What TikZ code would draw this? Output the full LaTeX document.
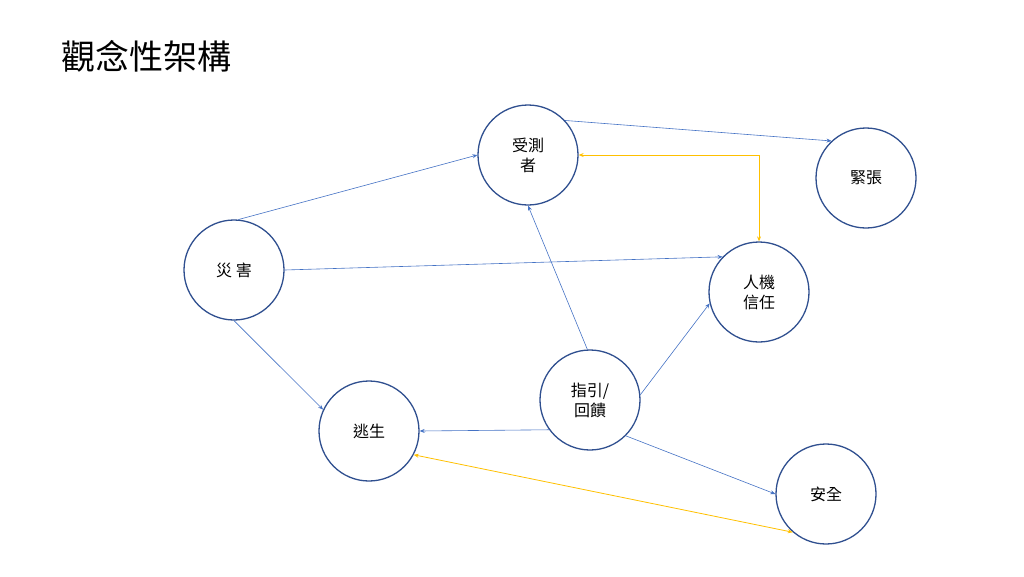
\documentclass[tikz,border=0pt]{standalone}
\usepackage{fontspec}
\newfontfamily\cjk{Noto Sans CJK TC}
\usetikzlibrary{arrows.meta}
\definecolor{cline}{HTML}{2F4F8F}
\definecolor{eline}{HTML}{4472C4}
\definecolor{yline}{HTML}{FFC000}
\begin{document}
\begin{tikzpicture}[x=1pt,y=-1pt,
  circ/.style={circle,draw=cline,line width=1.3pt,minimum size=100pt,inner sep=0pt,font=\cjk\fontsize{16}{20}\selectfont,align=center},
  edge/.style={draw=eline,line width=0.6pt,-{Stealth[length=5pt,width=4pt]}},
  yedge/.style={draw=yline,line width=0.8pt,{Stealth[length=5pt,width=4pt]}-{Stealth[length=5pt,width=4pt]}}]
\useasboundingbox (0,0) rectangle (1024,576);
\node[anchor=west,font=\cjk\fontsize{34}{40}\selectfont] (title) at (58,56) {觀念性架構};
\node[circ] (j) at (528,155) {受測\\者};
\node[circ] (k) at (866,178) {緊張};
\node[circ] (d) at (234,270) {災 害};
\node[circ] (t) at (759,292) {人機\\信任};
\node[circ] (g) at (590,400) {指引/\\回饋};
\node[circ] (e) at (369,431) {逃生};
\node[circ] (s) at (826,494) {安全};
\draw[edge] (j.43) -- (k.133);
\draw[edge] (d.85) -- (j.180);
\draw[edge] (d.0) -- (t.136);
\draw[edge] (d.270) -- (e.155);
\draw[edge] (g.93) -- (j.270);
\draw[edge] (g.6) -- (t.193);
\draw[edge] (g.216) -- (e.0);
\draw[edge] (g.315) -- (s.180);
\draw[yedge] (j.0) -- (j.0 -| t.north) -- (t.north);
\draw[yedge] (e.332) -- (s.229);
\end{tikzpicture}
\end{document}
